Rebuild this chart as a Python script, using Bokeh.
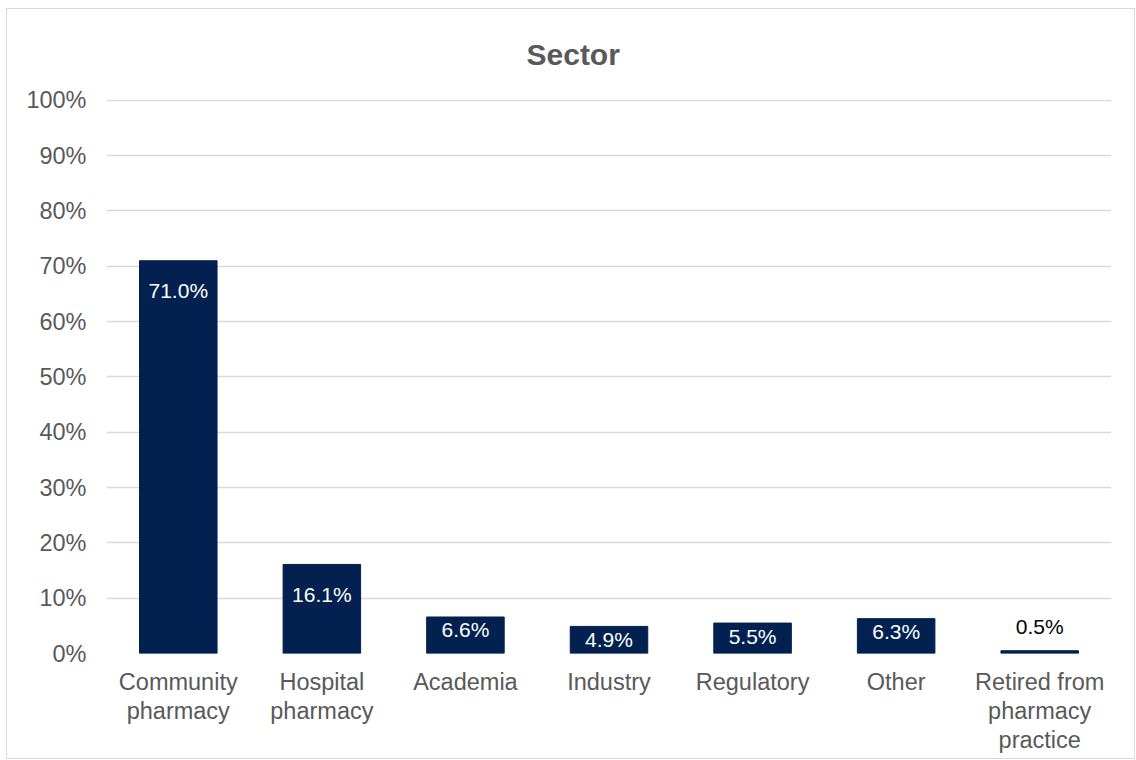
from bokeh.plotting import figure
from bokeh.models import ColumnDataSource, FactorRange, Range1d, SingleIntervalTicker, PrintfTickFormatter
from bokeh.embed import file_html
from bokeh.resources import INLINE

categories = ["Community\npharmacy", "Hospital\npharmacy", "Academia", "Industry",
              "Regulatory", "Other", "Retired from\npharmacy\npractice"]
values = [71.0, 16.1, 6.6, 4.9, 5.5, 6.3, 0.5]
labels = ["71.0%", "16.1%", "6.6%", "4.9%", "5.5%", "6.3%", "0.5%"]

BAR = "#022150"
GREY = "#595959"
FONT = "Liberation Sans"

label_colors = ["white" if v >= 1 else "black" for v in values]
label_offsets = [30 if v > 10 else (13 if v >= 1 else -24) for v in values]

src = ColumnDataSource(dict(cat=categories, val=values, lab=labels,
                            col=label_colors, off=label_offsets))

p = figure(x_range=FactorRange(*categories), y_range=Range1d(0, 100.15),
           width=1129, height=751, output_backend="svg", toolbar_location=None,
           min_border_left=99, min_border_right=25, min_border_top=90, min_border_bottom=107,
           title="Sector")
p.styles = {"margin-left": "6px", "margin-top": "8px", "border": "1px solid #d9d9d9"}
p.outline_line_color = None
p.x_range.range_padding = 0
p.x_range.factor_padding = 0

p.title.align = "left"
p.title.offset = 420
p.title.vertical_align = "top"
p.title.standoff = 53
p.title.text_font = FONT
p.title.text_font_size = "30px"
p.title.text_font_style = "bold"
p.title.text_color = GREY

p.vbar(x="cat", top="val", width=0.54, source=src, fill_color=BAR, line_color=BAR)
p.text(x="cat", y="val", text="lab", text_color="col", y_offset="off", source=src,
       text_align="center", text_baseline="middle", text_font_size="21px",
       text_font={"value": FONT})

p.yaxis.ticker = SingleIntervalTicker(interval=10)
p.yaxis.formatter = PrintfTickFormatter(format="%d%%")
for ax in (p.xaxis, p.yaxis):
    ax.axis_line_color = None
    ax.major_tick_line_color = None
    ax.minor_tick_line_color = None
    ax.major_tick_out = 0
    ax.major_tick_in = 0
    ax.minor_tick_out = 0
    ax.major_label_text_font = FONT
    ax.major_label_text_font_size = "23.5px"
    ax.major_label_text_color = GREY
p.xaxis.major_label_text_line_height = 1.12
p.yaxis.major_label_standoff = 20
p.xaxis.major_label_standoff = 15
p.xgrid.grid_line_color = None
p.ygrid.grid_line_color = "#d9d9d9"
p.ygrid.grid_line_width = 1.3

open("out.html", "w").write(file_html(p, INLINE))
